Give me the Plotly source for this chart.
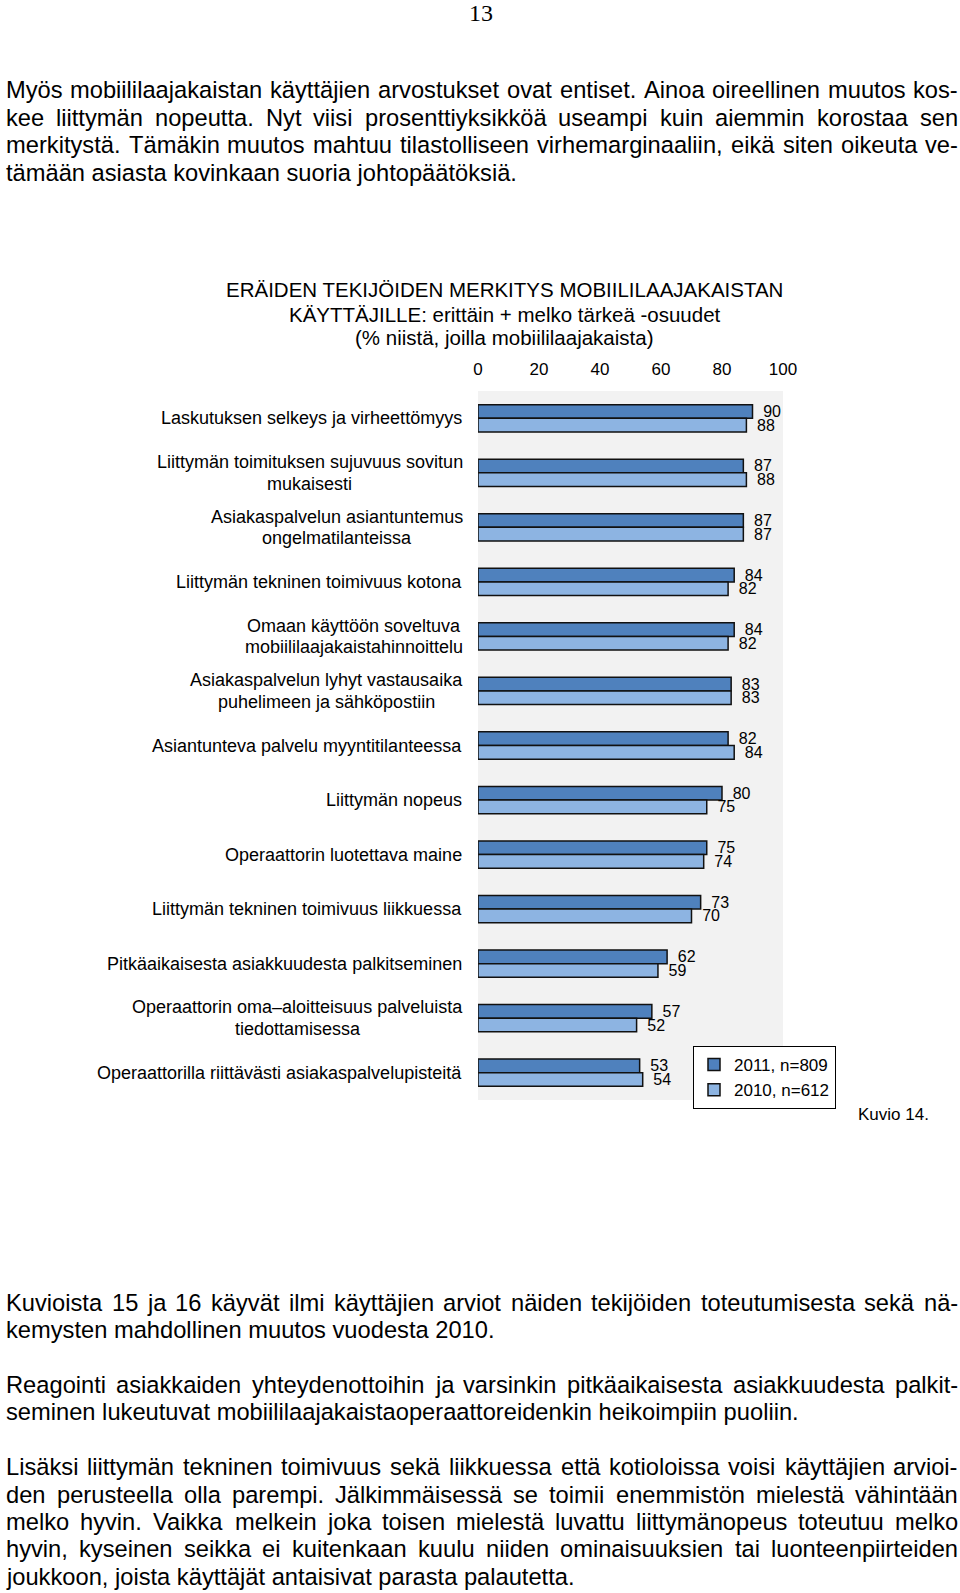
import plotly.graph_objects as go

# chart data
categories = [
    "Laskutuksen selkeys ja virheettömyys",
    "Liittymän toimituksen sujuvuus sovitun mukaisesti",
    "Asiakaspalvelun asiantuntemus ongelmatilanteissa",
    "Liittymän tekninen toimivuus kotona",
    "Omaan käyttöön soveltuva mobiililaajakaistahinnoittelu",
    "Asiakaspalvelun lyhyt vastausaika puhelimeen ja sähköpostiin",
    "Asiantunteva palvelu myyntitilanteessa",
    "Liittymän nopeus",
    "Operaattorin luotettava maine",
    "Liittymän tekninen toimivuus liikkuessa",
    "Pitkäaikaisesta asiakkuudesta palkitseminen",
    "Operaattorin oma–aloitteisuus palveluista tiedottamisessa",
    "Operaattorilla riittävästi asiakaspalvelupisteitä",
]
category_lines = [
    ["Laskutuksen selkeys ja virheettömyys"],
    ["Liittymän toimituksen sujuvuus sovitun", "mukaisesti"],
    ["Asiakaspalvelun asiantuntemus", "ongelmatilanteissa"],
    ["Liittymän tekninen toimivuus kotona"],
    ["Omaan käyttöön soveltuva", "mobiililaajakaistahinnoittelu"],
    ["Asiakaspalvelun lyhyt vastausaika", "puhelimeen ja sähköpostiin"],
    ["Asiantunteva palvelu myyntitilanteessa"],
    ["Liittymän nopeus"],
    ["Operaattorin luotettava maine"],
    ["Liittymän tekninen toimivuus liikkuessa"],
    ["Pitkäaikaisesta asiakkuudesta palkitseminen"],
    ["Operaattorin oma–aloitteisuus palveluista", "tiedottamisessa"],
    ["Operaattorilla riittävästi asiakaspalvelupisteitä"],
]
values_2011 = [90, 87, 87, 84, 84, 83, 82, 80, 75, 73, 62, 57, 53]
values_2010 = [88, 88, 87, 82, 82, 83, 84, 75, 74, 70, 59, 52, 54]
series_names = ["2011, n=809", "2010, n=612"]
x_ticks = [0, 20, 40, 60, 80, 100]

title_lines = [
    "ERÄIDEN TEKIJÖIDEN MERKITYS MOBIILILAAJAKAISTAN",
    "KÄYTTÄJILLE: erittäin + melko tärkeä -osuudet",
    "(% niistä, joilla mobiililaajakaista)",
]

# page text
para_top = [
    "Myös mobiililaajakaistan käyttäjien arvostukset ovat entiset. Ainoa oireellinen muutos kos-",
    "kee liittymän nopeutta. Nyt viisi prosenttiyksikköä useampi kuin aiemmin korostaa sen",
    "merkitystä. Tämäkin muutos mahtuu tilastolliseen virhemarginaaliin, eikä siten oikeuta ve-",
    "tämään asiasta kovinkaan suoria johtopäätöksiä.",
]
para_2 = [
    "Kuvioista 15 ja 16 käyvät ilmi käyttäjien arviot näiden tekijöiden toteutumisesta sekä nä-",
    "kemysten mahdollinen muutos vuodesta 2010.",
]
para_3 = [
    "Reagointi asiakkaiden yhteydenottoihin ja varsinkin pitkäaikaisesta asiakkuudesta palkit-",
    "seminen lukeutuvat mobiililaajakaistaoperaattoreidenkin heikoimpiin puoliin.",
]
para_4 = [
    "Lisäksi liittymän tekninen toimivuus sekä liikkuessa että kotioloissa voisi käyttäjien arvioi-",
    "den perusteella olla parempi. Jälkimmäisessä se toimii enemmistön mielestä vähintään",
    "melko hyvin. Vaikka melkein joka toisen mielestä luvattu liittymänopeus toteutuu melko",
    "hyvin, kyseinen seikka ei kuitenkaan kuulu niiden ominaisuuksien tai luonteenpiirteiden",
    "joukkoon, joista käyttäjät antaisivat parasta palautetta.",
]

W, H = 960, 1593
FONT = "Liberation Sans, Arial, sans-serif"

# Arial / Liberation Sans advance widths (1/1000 em)
CHAR_W = {" ": 278, ",": 278, ".": 278, "-": 333, ":": 278, "(": 333, ")": 333,
          "%": 889, "+": 584, "=": 584, "–": 556}
for ch, w in zip("ABCDEFGHIJKLMNOPQRSTUVWXYZ",
                 [667, 667, 722, 722, 667, 611, 778, 722, 278, 500, 667, 556, 833,
                  722, 778, 667, 778, 722, 667, 611, 722, 667, 944, 667, 667, 611]):
    CHAR_W[ch] = w
for ch, w in zip("abcdefghijklmnopqrstuvwxyz",
                 [556, 556, 500, 556, 556, 278, 556, 556, 222, 222, 500, 222, 833,
                  556, 556, 556, 556, 333, 500, 278, 556, 500, 722, 500, 500, 500]):
    CHAR_W[ch] = w
CHAR_W.update({"ä": 556, "ö": 556, "å": 556, "Ä": 667, "Ö": 778})


def text_width(s, size):
    return sum(CHAR_W.get(c, 556) for c in s) / 1000 * size


def px(x):
    return x / W


def py(y):
    return 1 - y / H


annotations = []


def note(x, y, text, size, xanchor="center", **kw):
    d = dict(x=px(x), y=py(y), xref="paper", yref="paper", text=text,
             xanchor=xanchor, yanchor="middle", showarrow=False, borderpad=0,
             font=dict(size=size))
    d.update(kw)
    annotations.append(d)


def add_paragraph(lines, ys, size=23.7, left=5, right=957):
    """Justified paragraph: every line but the last is spread word by word."""
    for i, (line, y) in enumerate(zip(lines, ys)):
        if i == len(lines) - 1:
            note(left, y, line, size, xanchor="left")
            continue
        words = line.split(" ")
        used = sum(text_width(w, size) for w in words)
        gap = (right - left - used) / (len(words) - 1)
        x = left
        for w in words:
            note(x, y, w, size, xanchor="left")
            x += text_width(w, size) + gap


add_paragraph(para_top, [90.4, 117.9, 145.3, 172.7, 200.1])
add_paragraph(para_2, [1302.5, 1329.9])
add_paragraph(para_3, [1384.8, 1412.2])
add_paragraph(para_4, [1467, 1494.5, 1521.9, 1549.3, 1576.8])

# page number and caption
note(481, 13, "13", 24,
     font=dict(family="Liberation Serif, Times New Roman, serif", size=24))
note(930, 1114, "Kuvio 14.", 17, xanchor="right")

# chart title
for line, y in zip(title_lines, [289, 314, 337]):
    note(505, y, line, 20.5)

# category labels, right aligned block, lines centred inside it
label_size = 18
label_right = 463
for cat, lines in zip(categories, category_lines):
    if len(lines) == 1:
        annotations.append(dict(x=px(label_right), y=cat, xref="paper", yref="y",
                                text=lines[0], xanchor="right", showarrow=False,
                                borderpad=0, font=dict(size=label_size)))
    else:
        widest = max(text_width(s, label_size) for s in lines)
        cx = label_right - widest / 2
        for j, s in enumerate(lines):
            annotations.append(dict(x=px(cx), y=cat, xref="paper", yref="y", text=s,
                                    yshift=10.7 - 21.4 * j, xanchor="center",
                                    showarrow=False, borderpad=0,
                                    font=dict(size=label_size)))

fig = go.Figure()
fig.add_trace(go.Bar(
    y=categories, x=values_2011, orientation="h", name=series_names[0],
    marker=dict(color="#4f81bd", line=dict(color="#111111", width=1.5)),
    texttemplate="\u00a0\u2009%{x}", textposition="outside",
    constraintext="none", cliponaxis=False, textfont=dict(size=16, color="black"),
    legendgroup="a",
))
fig.add_trace(go.Bar(
    y=categories, x=values_2010, orientation="h", name=series_names[1],
    marker=dict(color="#8db4e2", line=dict(color="#111111", width=1.5)),
    texttemplate="\u00a0\u2009%{x}", textposition="outside",
    constraintext="none", cliponaxis=False, textfont=dict(size=16, color="black"),
    legendgroup="b",
))

fig.update_layout(
    width=W, height=H, autosize=False,
    margin=dict(l=0, r=0, t=0, b=0, autoexpand=False),
    paper_bgcolor="white",
    plot_bgcolor="#f2f2f2",
    font=dict(family=FONT, color="black"),
    barmode="group", bargap=0.5, bargroupgap=0,
    showlegend=True,
    legend=dict(x=px(693), y=py(1046), xanchor="left", yanchor="top",
                bgcolor="white", bordercolor="black", borderwidth=1,
                font=dict(size=17), traceorder="normal", tracegroupgap=2,
                itemwidth=30),
    xaxis=dict(domain=[px(478), px(783)], range=[0, 100], side="top",
               tickvals=x_ticks, showgrid=False, zeroline=False, showline=False,
               ticks="", ticklabelstandoff=12, tickfont=dict(size=17),
               fixedrange=True, automargin=False),
    yaxis=dict(domain=[py(1100), py(391)], type="category", categoryorder="array",
               categoryarray=categories, range=[12.5, -0.5], showticklabels=False,
               showgrid=False, zeroline=False, showline=False, ticks="",
               automargin=False),
    annotations=annotations,
)

# page body margin and scrollbars off so the figure fills the window exactly
fig.write_html(
    "out.html",
    config={"responsive": False, "displayModeBar": False},
    post_script="document.body.style.margin = '0';"
                "document.documentElement.style.overflow = 'hidden';",
)
